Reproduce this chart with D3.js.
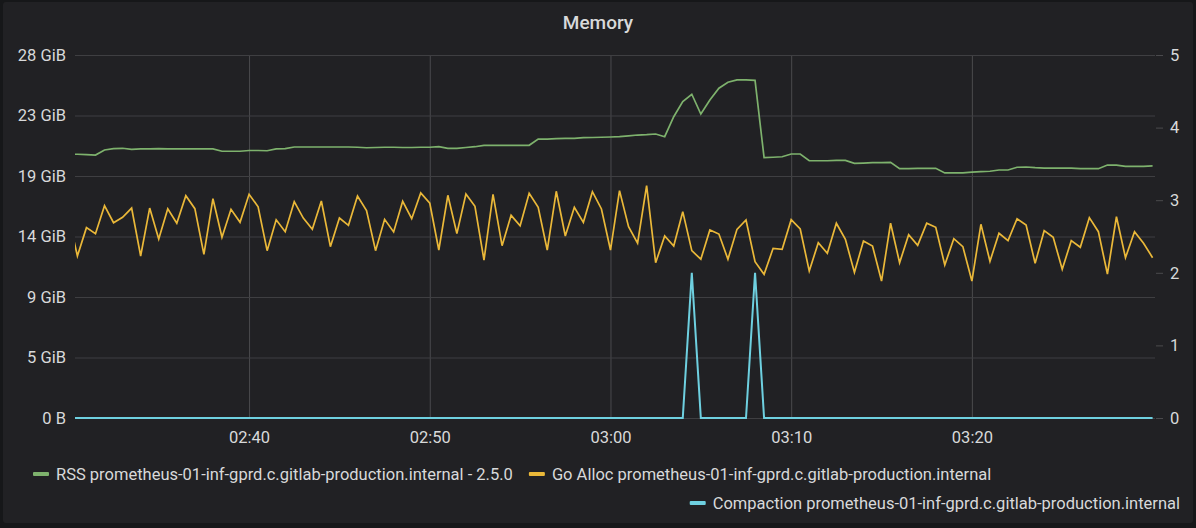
<!DOCTYPE html>
<html>
<head>
<meta charset="utf-8">
<script src="https://cdn.jsdelivr.net/npm/d3@7"></script>
<style>
	body { margin: 0; background: #161719; }
	svg { display: block; font-family: Roboto, 'Noto Sans', sans-serif; }
</style>
</head>
<body>
<svg id="chart" width="1196" height="528"></svg>
<script>
// one sample every 30s, starting 02:30:00 (first one falls just left of the panel)
const startTime = Date.UTC(2018, 9, 8, 2, 30, 0)
const stepMs = 30000

// RSS, GiB
const rssGiB = [
	20.30,
	20.30, 20.27, 20.24, 20.63, 20.73, 20.76, 20.68, 20.71, 20.71, 20.73,
	20.71, 20.71, 20.71, 20.71, 20.71, 20.71, 20.53, 20.53, 20.53, 20.59,
	20.59, 20.57, 20.71, 20.73, 20.86, 20.86, 20.86, 20.86, 20.86, 20.86,
	20.86, 20.84, 20.80, 20.82, 20.84, 20.84, 20.82, 20.82, 20.84, 20.84,
	20.88, 20.76, 20.76, 20.82, 20.88, 20.99, 20.99, 20.99, 20.99, 20.99,
	20.99, 21.47, 21.47, 21.50, 21.53, 21.53, 21.58, 21.59, 21.61, 21.63,
	21.65, 21.71, 21.78, 21.81, 21.86, 21.65, 23.19, 24.35, 24.92, 23.40,
	24.48, 25.38, 25.84, 26.02, 26.02, 25.99, 20.04, 20.07, 20.11, 20.32,
	20.32, 19.80, 19.80, 19.80, 19.83, 19.83, 19.60, 19.62, 19.65, 19.66,
	19.68, 19.19, 19.20, 19.21, 19.22, 19.22, 18.86, 18.86, 18.86, 18.93,
	18.96, 18.99, 19.09, 19.09, 19.30, 19.32, 19.27, 19.24, 19.24, 19.24,
	19.24, 19.19, 19.19, 19.19, 19.47, 19.47, 19.37, 19.37, 19.37, 19.40
]

// Go Alloc, GiB
const goAllocGiB = [
	15.56,
	12.47, 14.65, 14.19, 16.34, 15.03, 15.45, 16.16, 12.47, 16.16, 13.78,
	16.11, 14.99, 17.11, 16.11, 12.60, 16.88, 13.91, 16.06, 15.06, 17.22,
	16.26, 12.88, 15.26, 14.34, 16.65, 15.39, 14.52, 16.70, 13.19, 15.39,
	14.83, 17.09, 15.96, 12.88, 15.29, 14.32, 16.68, 15.34, 17.32, 16.53,
	12.93, 17.14, 14.19, 17.24, 16.29, 12.16, 17.22, 13.26, 15.60, 14.80,
	17.30, 16.22, 12.93, 17.45, 14.01, 16.22, 15.06, 17.42, 16.09, 12.93,
	17.50, 14.72, 13.45, 17.88, 11.95, 14.01, 13.24, 15.88, 12.88, 12.22,
	14.47, 14.16, 12.22, 14.52, 15.24, 12.03, 11.06, 13.06, 12.98, 15.26,
	14.55, 11.31, 13.49, 12.68, 14.99, 13.75, 11.21, 13.62, 13.24, 10.54,
	14.99, 11.95, 14.11, 13.29, 14.99, 14.68, 11.78, 13.80, 13.19, 10.54,
	14.91, 12.06, 14.22, 13.65, 15.34, 14.86, 11.91, 14.42, 13.91, 11.45,
	13.65, 13.14, 15.42, 14.34, 11.08, 15.49, 12.34, 14.34, 13.45, 12.34
]

// Compaction (right axis)
const compaction = [
	0,
	0, 0, 0, 0, 0, 0, 0, 0, 0, 0,
	0, 0, 0, 0, 0, 0, 0, 0, 0, 0,
	0, 0, 0, 0, 0, 0, 0, 0, 0, 0,
	0, 0, 0, 0, 0, 0, 0, 0, 0, 0,
	0, 0, 0, 0, 0, 0, 0, 0, 0, 0,
	0, 0, 0, 0, 0, 0, 0, 0, 0, 0,
	0, 0, 0, 0, 0, 0, 0, 0, 2, 0,
	0, 0, 0, 0, 0, 2, 0, 0, 0, 0,
	0, 0, 0, 0, 0, 0, 0, 0, 0, 0,
	0, 0, 0, 0, 0, 0, 0, 0, 0, 0,
	0, 0, 0, 0, 0, 0, 0, 0, 0, 0,
	0, 0, 0, 0, 0, 0, 0, 0, 0, 0
]

const leftTickBytes = [0, 5e9, 10e9, 15e9, 20e9, 25e9, 30e9]
const leftTickLabels = ['0 B', '5 GiB', '9 GiB', '14 GiB', '19 GiB', '23 GiB', '28 GiB']
const rightTicks = [0, 1, 2, 3, 4, 5]
const timeTickLabels = ['02:40', '02:50', '03:00', '03:10', '03:20']

const seriesNames = [
	'RSS prometheus-01-inf-gprd.c.gitlab-production.internal - 2.5.0',
	'Go Alloc prometheus-01-inf-gprd.c.gitlab-production.internal',
	'Compaction prometheus-01-inf-gprd.c.gitlab-production.internal'
]
const seriesColors = ['#7eb26d', '#eab839', '#6ed0e0']

const GiB = Math.pow(2, 30)
const W = 1196, H = 528
const plot = { left: 75, right: 1155, top: 55, bottom: 418 }
const textColor = '#d8d9da'
const fontSize = 16.5

const svg = d3.select('#chart')

svg.append('rect')
	.attr('x', 3).attr('y', 2).attr('width', W - 6).attr('height', 521).attr('rx', 3)
	.attr('fill', '#212124')

svg.append('text')
	.attr('x', 598).attr('y', 29)
	.attr('text-anchor', 'middle')
	.attr('font-size', 19).attr('font-weight', 500)
	.attr('fill', textColor)
	.text('Memory')

const x = d3.scaleUtc()
	.domain([Date.UTC(2018, 9, 8, 2, 30, 22), Date.UTC(2018, 9, 8, 3, 30, 8)])
	.range([plot.left, plot.right])
const y = d3.scaleLinear().domain([0, 30e9]).range([plot.bottom, plot.top])
const y2 = d3.scaleLinear().domain([0, 5]).range([plot.bottom, plot.top])

const timeTicks = timeTickLabels.map(s => {
	const [hh, mm] = s.split(':').map(Number)
	return new Date(Date.UTC(2018, 9, 8, hh, mm, 0))
})

// x grid + labels
const gx = svg.append('g')
	.attr('transform', `translate(0,${plot.bottom})`)
	.call(d3.axisBottom(x)
		.tickValues(timeTicks)
		.tickFormat((d, i) => timeTickLabels[i])
		.tickSize(-(plot.bottom - plot.top))
		.tickPadding(13))
gx.select('.domain').remove()
gx.selectAll('line').attr('stroke', '#4a4a4d')
gx.selectAll('text').attr('fill', textColor).attr('font-size', fontSize).attr('font-family', 'Roboto')

// left axis with horizontal grid
const gy = svg.append('g')
	.attr('transform', `translate(${plot.left},0)`)
	.call(d3.axisLeft(y)
		.tickValues(leftTickBytes)
		.tickFormat((d, i) => leftTickLabels[i])
		.tickSize(-(plot.right - plot.left))
		.tickPadding(9))
gy.select('.domain').remove()
gy.selectAll('line').attr('stroke', '#3f3f42')
gy.selectAll('text').attr('fill', textColor).attr('font-size', fontSize).attr('font-family', 'Roboto')

// right axis
const gy2 = svg.append('g')
	.attr('transform', `translate(${plot.right + 1},0)`)
	.call(d3.axisRight(y2)
		.tickValues(rightTicks)
		.tickFormat(d3.format('d'))
		.tickSize(7)
		.tickPadding(7))
gy2.select('.domain').remove()
gy2.selectAll('line').attr('stroke', '#4a4a4d')
gy2.selectAll('text').attr('fill', textColor).attr('font-size', fontSize).attr('font-family', 'Roboto')

svg.append('clipPath').attr('id', 'plotClip')
	.append('rect')
	.attr('x', plot.left).attr('y', plot.top - 5)
	.attr('width', plot.right - plot.left).attr('height', plot.bottom - plot.top + 10)

const lines = svg.append('g').attr('clip-path', 'url(#plotClip)')
const t = i => startTime + i * stepMs

const leftLine = d3.line().x((d, i) => x(t(i))).y(d => y(d * GiB))
const rightLine = d3.line().x((d, i) => x(t(i))).y(d => y2(d))

lines.append('path').datum(rssGiB)
	.attr('d', leftLine)
	.attr('fill', 'none').attr('stroke', seriesColors[0]).attr('stroke-width', 1.7)
lines.append('path').datum(goAllocGiB)
	.attr('d', leftLine)
	.attr('fill', 'none').attr('stroke', seriesColors[1]).attr('stroke-width', 1.7)
lines.append('path').datum(compaction)
	.attr('d', rightLine)
	.attr('fill', 'none').attr('stroke', seriesColors[2]).attr('stroke-width', 2)

// legend
const legend = svg.append('g').attr('font-size', fontSize).attr('fill', textColor)
const addItem = (g, i, sx, cy) => {
	g.append('rect')
		.attr('x', sx).attr('y', cy - 2).attr('width', 16).attr('height', 4).attr('rx', 1)
		.attr('fill', seriesColors[i])
	const tx = g.append('text')
		.attr('x', sx + 23).attr('y', cy).attr('dy', '0.35em')
		.text(seriesNames[i])
	return sx + 23 + tx.node().getComputedTextLength()
}
let end = addItem(legend, 0, 33, 474)
addItem(legend, 1, end + 16, 474)

const right = legend.append('g')
const rEnd = addItem(right, 2, 0, 503)
right.attr('transform', `translate(${1180 - rEnd},0)`)
</script>
</body>
</html>
